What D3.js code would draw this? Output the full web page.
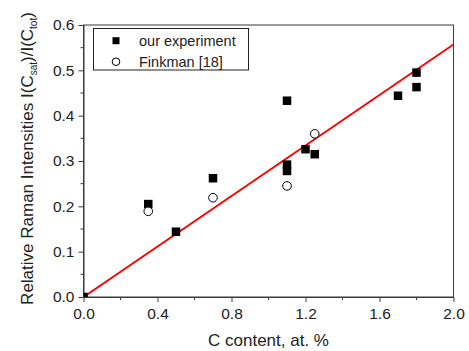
<!DOCTYPE html>
<html>
<head>
<meta charset="utf-8">
<script src="https://cdn.jsdelivr.net/npm/d3@7"></script>
<style>
  body { margin: 0; background: #fff; }
  svg { display: block; font-family: "Liberation Sans", Arial, sans-serif; }
</style>
</head>
<body>
<svg id="chart" width="469" height="351"></svg>
<script>
// ---- data ----
const ourX = [0.0, 0.35, 0.5, 0.7, 1.1, 1.1, 1.1, 1.2, 1.25, 1.7, 1.8, 1.8];
const ourY = [0.0, 0.205, 0.144, 0.262, 0.433, 0.292, 0.278, 0.326, 0.315, 0.444, 0.495, 0.463];
const finkX = [0.35, 0.7, 1.1, 1.25];
const finkY = [0.189, 0.219, 0.245, 0.36];
const fitX = [0.0, 2.0];
const fitY = [0.0, 0.557];
const xTicks = [0.0, 0.4, 0.8, 1.2, 1.6, 2.0];
const xMinor = [0.2, 0.6, 1.0, 1.4, 1.8];
const yTicks = [0.0, 0.1, 0.2, 0.3, 0.4, 0.5, 0.6];
const yMinor = [0.05, 0.15, 0.25, 0.35, 0.45, 0.55];
const legendLabels = ["our experiment", "Finkman [18]"];

// ---- layout ----
const L = 83.5, R = 453.5, T = 25, B = 297;
const svg = d3.select("#chart");
const x = d3.scaleLinear().domain([0, 2.0]).range([L, R]);
const y = d3.scaleLinear().domain([0, 0.6]).range([B, T]);
const axisColor = "#3a3a3a";

svg.append("defs").append("clipPath").attr("id", "clip")
  .append("rect").attr("x", L).attr("y", T).attr("width", R - L).attr("height", B - T);

// frame
svg.append("rect").attr("x", L).attr("y", T).attr("width", R - L).attr("height", B - T)
  .attr("fill", "none").attr("stroke", axisColor).attr("stroke-width", 1);

// axes
const xAxis = d3.axisBottom(x).tickValues(xTicks).tickFormat(d3.format(".1f")).tickSize(5).tickSizeOuter(0);
const gx = svg.append("g").attr("transform", `translate(0,${B})`).call(xAxis);
gx.append("g").selectAll("line").data(xMinor).join("line")
  .attr("x1", d => x(d)).attr("x2", d => x(d)).attr("y1", 0).attr("y2", 3)
  .attr("stroke", axisColor);
const yAxis = d3.axisLeft(y).tickValues(yTicks).tickFormat(d3.format(".1f")).tickSize(5).tickSizeOuter(0);
const gy = svg.append("g").attr("transform", `translate(${L},0)`).call(yAxis);
gy.append("g").selectAll("line").data(yMinor).join("line")
  .attr("y1", d => y(d)).attr("y2", d => y(d)).attr("x1", 0).attr("x2", -3)
  .attr("stroke", axisColor);
[gx, gy].forEach(g => {
  g.select(".domain").attr("stroke", axisColor);
  g.selectAll(".tick line").attr("stroke", axisColor);
  g.selectAll(".tick text").attr("fill", "#222").attr("font-size", 15.5)
    .attr("font-family", "'Liberation Sans', Arial, sans-serif");
});
gx.selectAll(".tick text").attr("dy", null).attr("y", 22);
gy.selectAll(".tick text").attr("x", -9);

// axis titles
svg.append("text").attr("x", 268.5).attr("y", 346).attr("text-anchor", "middle")
  .attr("font-size", 17).attr("fill", "#222").text("C content, at. %");

const yl = svg.append("text").attr("transform", "translate(33,158.5) rotate(-90)")
  .attr("text-anchor", "middle").attr("font-size", 17).attr("fill", "#222");
yl.append("tspan").text("Relative Raman Intensities I(C");
yl.append("tspan").attr("font-size", 10).attr("dy", 4).text("sat");
yl.append("tspan").attr("dy", -4).text(")/I(C");
yl.append("tspan").attr("font-size", 10).attr("dy", 4).text("tot");
yl.append("tspan").attr("dy", -4).text(")");

// plot
const plot = svg.append("g").attr("clip-path", "url(#clip)");
plot.append("line")
  .attr("x1", x(fitX[0])).attr("y1", y(fitY[0])).attr("x2", x(fitX[1])).attr("y2", y(fitY[1]))
  .attr("stroke", "#ff0000").attr("stroke-width", 2);

const sq = 8.5;
plot.selectAll("rect.our").data(ourX.map((d, i) => [d, ourY[i]])).join("rect")
  .attr("class", "our")
  .attr("x", d => x(d[0]) - sq / 2).attr("y", d => y(d[1]) - sq / 2)
  .attr("width", sq).attr("height", sq).attr("fill", "#000");

plot.selectAll("circle.fink").data(finkX.map((d, i) => [d, finkY[i]])).join("circle")
  .attr("class", "fink")
  .attr("cx", d => x(d[0])).attr("cy", d => y(d[1])).attr("r", 4.3)
  .attr("fill", "#fff").attr("stroke", "#000").attr("stroke-width", 1);

// legend
const lg = svg.append("g");
lg.append("rect").attr("x", 93.5).attr("y", 28.5).attr("width", 155).attr("height", 41.5)
  .attr("fill", "#fff").attr("stroke", "#222").attr("stroke-width", 1);
lg.append("rect").attr("x", 116 - 3.5).attr("y", 40.7 - 3.5).attr("width", 7).attr("height", 7).attr("fill", "#000");
lg.append("circle").attr("cx", 116).attr("cy", 61.7).attr("r", 3.8)
  .attr("fill", "#fff").attr("stroke", "#000");
lg.selectAll("text").data(legendLabels).join("text")
  .attr("x", 139).attr("y", (d, i) => 45.8 + i * 21)
  .attr("font-size", 14.5).attr("fill", "#222").text(d => d);
</script>
</body>
</html>
